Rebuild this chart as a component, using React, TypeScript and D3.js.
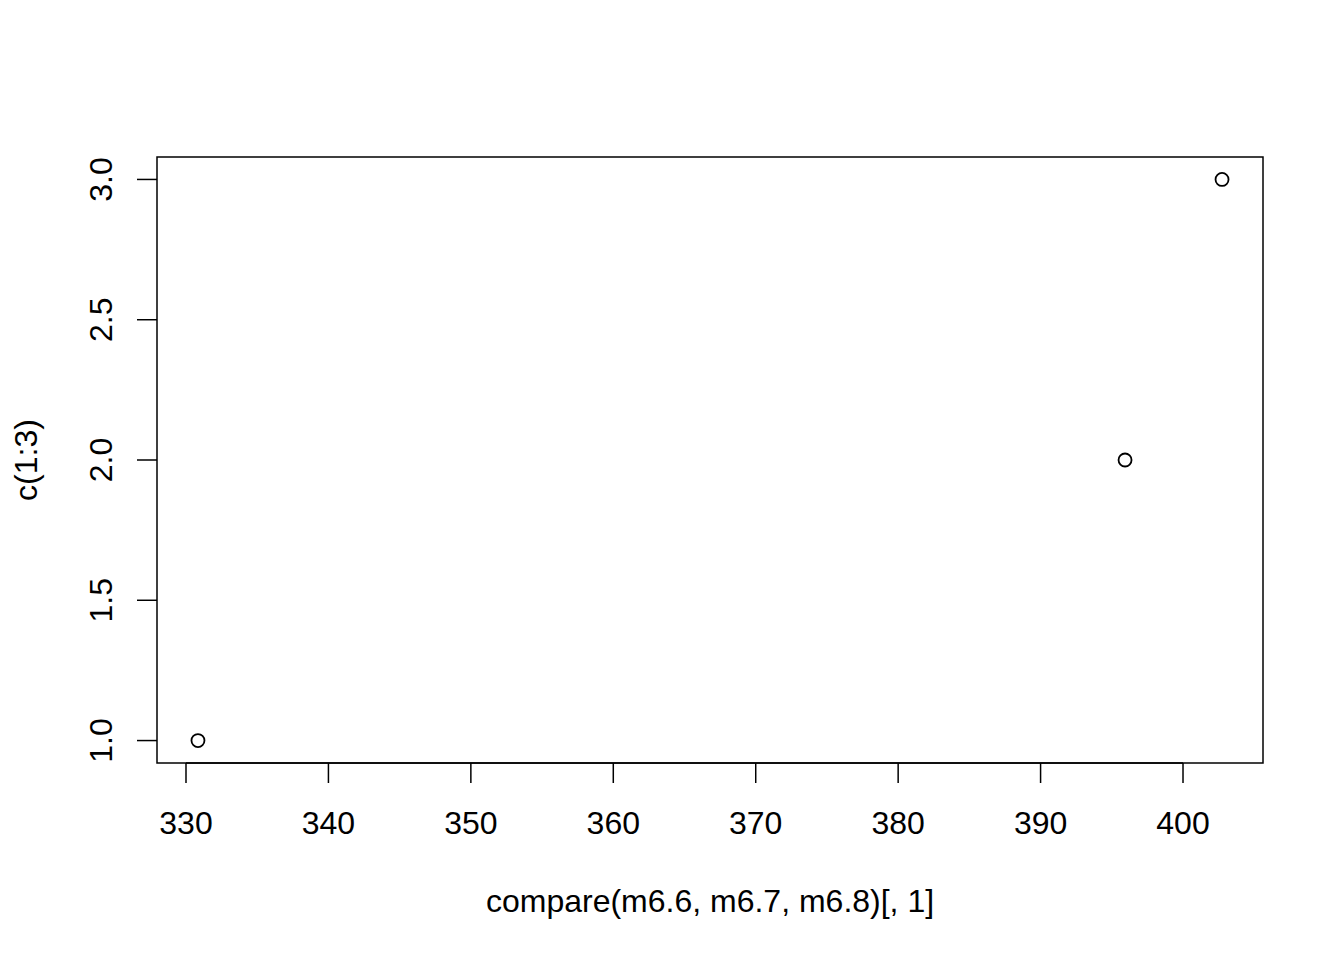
import React from "react";
import * as d3 from "d3";

const xValues = [330.84, 395.93, 402.74];
const yValues = [1, 2, 3];
const xTicks = [330, 340, 350, 360, 370, 380, 390, 400];
const yTicks = [1.0, 1.5, 2.0, 2.5, 3.0];
const xTitle = "compare(m6.6, m6.7, m6.8)[, 1]";
const yTitle = "c(1:3)";

const W = 1344, H = 960;
const L = 157, R = 1263, T = 157, B = 763;
const FONT = "Liberation Sans, Arial, Helvetica, sans-serif";

export default function App() {
  const xr = d3.extent(xValues) as [number, number];
  const yr = d3.extent(yValues) as [number, number];
  const xp = (xr[1] - xr[0]) * 0.04;
  const yp = (yr[1] - yr[0]) * 0.04;
  const x = d3.scaleLinear().domain([xr[0] - xp, xr[1] + xp]).range([L, R]);
  const y = d3.scaleLinear().domain([yr[0] - yp, yr[1] + yp]).range([B, T]);
  return (
    <svg width={W} height={H} style={{ position: "absolute", left: 0, top: 0, background: "#fff" }} fontFamily={FONT}>
      <rect x={0} y={0} width={W} height={H} fill="#fff" />
      <rect x={L} y={T} width={R - L} height={B - T} fill="none" stroke="#000" strokeWidth={1.5} />
      <line x1={x(xTicks[0])} x2={x(xTicks[xTicks.length - 1])} y1={B} y2={B} stroke="#000" strokeWidth={1.5} />
      {xTicks.map((t) => (
        <g key={"x" + t}>
          <line x1={x(t)} x2={x(t)} y1={B} y2={B + 20} stroke="#000" strokeWidth={1.5} />
          <text x={x(t)} y={834} fontSize={32} textAnchor="middle">{t}</text>
        </g>
      ))}
      {yTicks.map((t) => (
        <g key={"y" + t}>
          <line x1={L - 20} x2={L} y1={y(t)} y2={y(t)} stroke="#000" strokeWidth={1.5} />
          <text transform={`translate(112,${y(t)}) rotate(-90)`} fontSize={32} textAnchor="middle">{t.toFixed(1)}</text>
        </g>
      ))}
      <text x={(L + R) / 2} y={912} fontSize={32} textAnchor="middle">{xTitle}</text>
      <text transform={`translate(37,${(T + B) / 2}) rotate(-90)`} fontSize={32} textAnchor="middle">{yTitle}</text>
      {xValues.map((v, i) => (
        <circle key={i} cx={x(v)} cy={y(yValues[i])} r={6.5} fill="none" stroke="#000" strokeWidth={1.8} />
      ))}
    </svg>
  );
}
